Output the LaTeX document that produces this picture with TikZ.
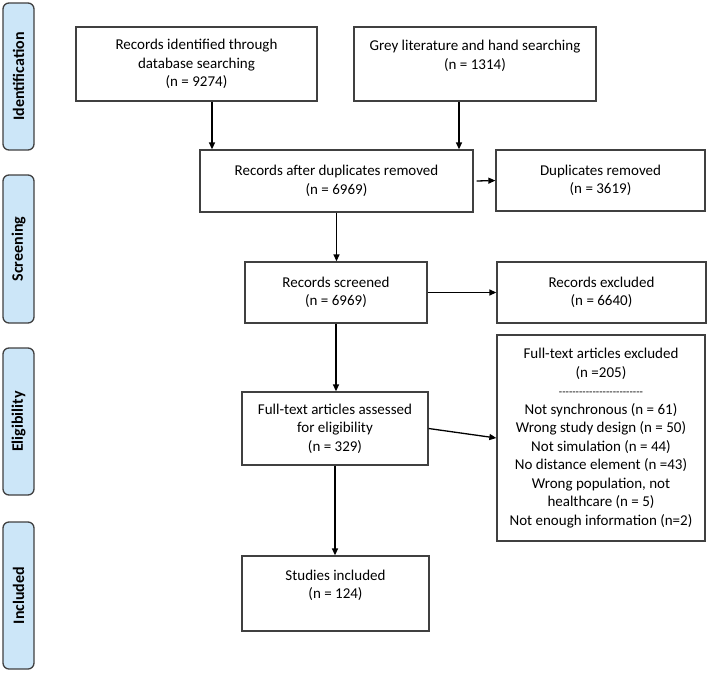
\documentclass[tikz,border=0pt]{standalone}
\usepackage{fontspec}
\setmainfont{Carlito}
\usetikzlibrary{arrows.meta}
\definecolor{phasefill}{RGB}{204,230,248}
\definecolor{edgegrey}{RGB}{64,64,64}
\newcommand\dashrow{{\fontsize{11}{18.5}\selectfont -{}-{}-{}-{}-{}-{}-{}-{}-{}-{}-{}-{}-{}-{}-{}-{}-{}-{}-{}-{}-{}-{}-{}-{}-}}
\begin{document}
\begin{tikzpicture}[x=1pt,y=-1pt,
  box/.style={draw=edgegrey,line width=1.3pt,align=center,inner sep=0pt,
    font=\fontsize{15}{18.5}\selectfont},
  phase/.style={draw=edgegrey,fill=phasefill,rounded corners=6pt,line width=1.3pt,
    inner sep=0pt,font=\bfseries\fontsize{16}{19}\selectfont},
  arr/.style={-{Triangle[length=7pt,width=6pt]},line width=1.3pt,black}]
\useasboundingbox (0,0) rectangle (708,672);

% phase labels
\node[phase,rotate=90,minimum width=147pt,minimum height=31pt] (p1) at (18.5,76.5) {Identification};
\node[phase,rotate=90,minimum width=148pt,minimum height=31pt] (p2) at (18.5,249) {Screening};
\node[phase,rotate=90,minimum width=147pt,minimum height=31pt] (p3) at (18.5,421.5) {Eligibility};
\node[phase,rotate=90,minimum width=147pt,minimum height=31pt] (p4) at (18.5,595.5) {Included};

% boxes
\node[box,minimum width=241pt,minimum height=74pt] (b1) at (196.5,64)
  {Records identified through\\database searching\\(n = 9274)};
\node[box,minimum width=242pt,minimum height=74pt] (b2) at (475,64)
  {Grey literature and hand searching\\(n = 1314)\\~};
\node[box,minimum width=273pt,minimum height=62pt] (b3) at (336.5,181)
  {Records after duplicates removed\\(n = 6969)};
\node[box,minimum width=209pt,minimum height=61pt] (b4) at (600.5,180.5)
  {Duplicates removed\\(n = 3619)};
\node[box,minimum width=182pt,minimum height=61pt] (b5) at (336,292.5)
  {Records screened\\(n = 6969)};
\node[box,minimum width=209pt,minimum height=61pt] (b6) at (601.5,292.5)
  {Records excluded\\(n = 6640)};
\node[box,minimum width=186pt,minimum height=73pt] (b7) at (335,428.5)
  {Full-text articles assessed\\for eligibility\\(n = 329)};
\node[box,minimum width=208pt,minimum height=206pt] (b8) at (601,438)
  {Full-text articles excluded\\(n =205)\\\dashrow\\Not synchronous (n = 61)\\Wrong study design (n = 50)\\Not simulation (n = 44)\\No distance element (n =43)\\Wrong population, not\\healthcare (n = 5)\\Not enough information (n=2)};
\node[box,minimum width=187pt,minimum height=75pt] (b9) at (335.5,593.5)
  {Studies included\\(n = 124)\\~};

% connectors
\draw[arr] ([xshift=15.5pt]b1.south) -- ([xshift=15.5pt]b1.south |- b3.north);
\draw[arr] ([xshift=-16pt]b2.south) -- ([xshift=-16pt]b2.south |- b3.north);
\draw[arr] ([xshift=3pt]b3.east) -- (b4.west);
\draw[arr] (b3.south) -- (b3.south |- b5.north);
\draw[arr] (b5.east) -- (b5.east -| b6.west);
\draw[arr] (b5.south) -- (b5.south |- b7.north);
\draw[arr] (b7.east) -- (b8.west);
\draw[arr] (b7.south) -- (b7.south |- b9.north);
\end{tikzpicture}
\end{document}
